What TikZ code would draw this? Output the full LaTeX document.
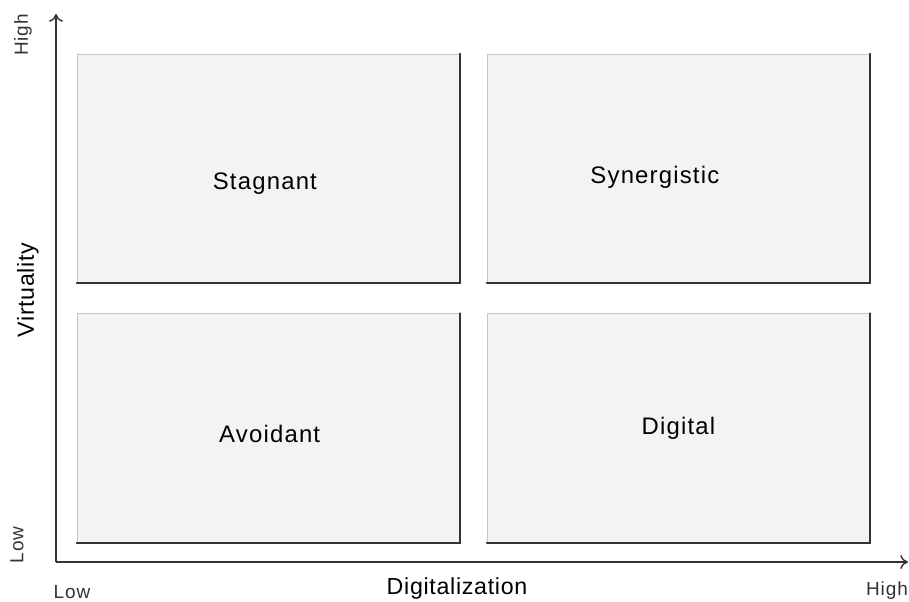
\documentclass[tikz,border=0pt]{standalone}
\usepackage{fontspec}
\setmainfont{Liberation Sans}
\usetikzlibrary{arrows.meta,positioning}
\tikzset{font={\fontsize{13pt}{15}\selectfont}}
\definecolor{boxfill}{HTML}{F3F3F3}
\definecolor{axisgray}{HTML}{333333}
\newcommand{\wide}{\addfontfeatures{LetterSpace=5}}

\begin{document}
\begin{tikzpicture}[
quadrant/.style={draw=gray!45,fill=boxfill,line width=0.4pt,minimum width=9.575cm,minimum height=5.725cm,inner sep=0pt},
qtext/.style={font={\fontsize{17pt}{20}\selectfont\wide}},
axis title/.style={font={\fontsize{16.5pt}{20}\selectfont\addfontfeatures{LetterSpace=3}}},
axis/.style={draw=axisgray,line width=1pt,-{To[length=5.5pt,width=10pt]}},
tick label/.style={font={\fontsize{13.5pt}{15}\selectfont\wide},text=axisgray}
]
\useasboundingbox (0,0) rectangle (22.725,15.025);

% axes
\coordinate (o) at (1.4,0.975);
\coordinate (ytip) at (1.4,14.675);
\coordinate (xtip) at (22.7,0.975);
\draw[axis] (o) -- (ytip);
\draw[axis] (o) -- (xtip);

% quadrants
\node[quadrant,label={[qtext,xshift=-0.09cm,yshift=-0.38cm]center:Stagnant}] (stag) at (6.7125,10.8125) {};
\node[quadrant,label={[qtext,xshift=-0.59cm,yshift=-0.21cm]center:Synergistic}] (syn) at (16.9625,10.8125) {};
\node[quadrant,label={[qtext,xshift=0.03cm,yshift=-0.15cm]center:Avoidant}] (avoid) at (6.7125,4.325) {};
\node[quadrant,label={[qtext,yshift=0cm]center:Digital}] (dig) at (16.9625,4.325) {};
\foreach \q in {stag,syn,avoid,dig}
  \draw[axisgray,line width=1.3pt,line cap=round] (\q.north east) -- (\q.south east) -- (\q.south west);

% axis labels
\node[axis title,rotate=90] (virt) at (0.7,7.775) {Virtuality};
\node[axis title] (digz) at (11.425,0.325) {Digitalization};
\node[tick label,rotate=90] (yhigh) at (0.575,14.15) {High};
\node[tick label,rotate=90] (ylow) at (0.425,1.4) {Low};
\node[tick label] (xlow) at (1.8,0.225) {Low};
\node[tick label] (xhigh) at (22.175,0.25) {High};

\end{tikzpicture}
\end{document}
